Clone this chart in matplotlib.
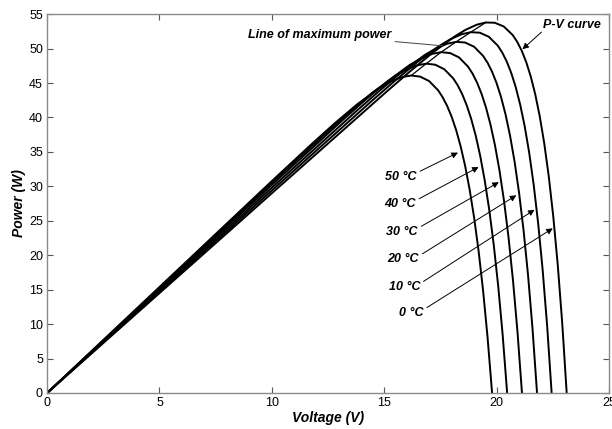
import numpy as np
import matplotlib.pyplot as plt

plt.rcParams['font.family'] = ['Liberation Sans', 'DejaVu Sans']

# P-V curves of the module at six cell temperatures (voltage in V, power in W)
temps = [0, 10, 20, 30, 40, 50]

v_0 = [0, 10, 15.12, 16.12, 17.12, 18.12, 18.62, 19.12, 19.52, 19.92, 20.32, 20.72, 20.92, 21.12, 21.32,
       21.52, 21.72, 21.92, 22.12, 22.32, 22.52, 22.72, 22.92, 23.12]
p_0 = [0, 29.0, 43.79, 46.61, 49.31, 51.73, 52.73, 53.47, 53.79, 53.75, 53.21, 51.96, 50.97, 49.68, 48.03,
       45.96, 43.37, 40.18, 36.27, 31.50, 25.70, 18.68, 10.20, 0]

v_10 = [0, 10, 14.45, 15.45, 16.45, 17.45, 17.95, 18.45, 18.85, 19.25, 19.65, 20.05, 20.25, 20.45, 20.65,
        20.85, 21.05, 21.25, 21.45, 21.65, 21.85, 22.05, 22.25, 22.45]
p_10 = [0, 29.4, 42.41, 45.26, 47.98, 50.39, 51.37, 52.09, 52.38, 52.31, 51.73, 50.44, 49.44, 48.14, 46.49,
        44.43, 41.87, 38.74, 34.91, 30.26, 24.64, 17.87, 9.75, 0]

v_20 = [0, 10, 13.8, 14.8, 15.8, 16.8, 17.3, 17.8, 18.2, 18.6, 19.0, 19.4, 19.6, 19.8, 20.0,
        20.2, 20.4, 20.6, 20.8, 21.0, 21.2, 21.4, 21.6, 21.8]
p_20 = [0, 29.8, 41.04, 43.91, 46.65, 49.06, 50.02, 50.71, 50.98, 50.88, 50.27, 48.94, 47.94, 46.63, 44.99,
        42.95, 40.43, 37.35, 33.61, 29.08, 23.64, 17.12, 9.31, 0]

v_30 = [0, 10, 13.13, 14.13, 15.13, 16.13, 16.63, 17.13, 17.53, 17.93, 18.33, 18.73, 18.93, 19.13, 19.33,
        19.53, 19.73, 19.93, 20.13, 20.33, 20.53, 20.73, 20.93, 21.13]
p_30 = [0, 30.2, 39.56, 42.46, 45.21, 47.61, 48.56, 49.23, 49.48, 49.35, 48.72, 47.38, 46.37, 45.07, 43.45,
        41.43, 38.95, 35.94, 32.29, 27.91, 22.64, 16.36, 8.89, 0]

v_40 = [0, 10, 12.47, 13.47, 14.47, 15.47, 15.97, 16.47, 16.87, 17.27, 17.67, 18.07, 18.27, 18.47, 18.67,
        18.87, 19.07, 19.27, 19.47, 19.67, 19.87, 20.07, 20.27, 20.47]
p_40 = [0, 30.5, 37.93, 40.84, 43.60, 45.99, 46.93, 47.58, 47.81, 47.66, 47.01, 45.68, 44.67, 43.39, 41.78,
        39.80, 37.39, 34.45, 30.91, 26.68, 21.62, 15.60, 8.46, 0]

v_50 = [0, 10, 11.8, 12.8, 13.8, 14.8, 15.3, 15.8, 16.2, 16.6, 17.0, 17.4, 17.6, 17.8, 18.0,
        18.2, 18.4, 18.6, 18.8, 19.0, 19.2, 19.4, 19.6, 19.8]
p_50 = [0, 30.77, 36.22, 39.16, 41.92, 44.30, 45.23, 45.87, 46.09, 45.93, 45.28, 43.94, 42.94, 41.68, 40.11,
        38.18, 35.82, 32.98, 29.56, 25.47, 20.62, 14.85, 8.04, 0]

curves_v = [v_0, v_10, v_20, v_30, v_40, v_50]
curves_p = [p_0, p_10, p_20, p_30, p_40, p_50]

# label anchor (right edge of text) and arrow tip for each temperature tag
label_xy = [(17.2, 11.6), (17.05, 15.4), (17.0, 19.4), (16.95, 23.4), (16.85, 27.4), (16.9, 31.4)]
arrow_tip = [(22.5, 23.9), (21.69, 26.6), (20.88, 28.7), (20.1, 30.6), (19.2, 32.8), (18.28, 34.9)]

fig = plt.figure(figsize=(6.12, 4.29), dpi=100)
ax = fig.add_axes([0.077, 0.084, 0.918, 0.883])

for v, p in zip(curves_v, curves_p):
    ax.plot(v, p, color='black', lw=1.4, solid_joinstyle='round')

# line through the maximum power points
mpp_v = [v[int(np.argmax(p))] for v, p in zip(curves_v, curves_p)]
mpp_p = [max(p) for p in curves_p]
ax.plot(mpp_v, mpp_p, color='black', lw=0.9)

txt = dict(fontsize=9, fontweight='bold', fontstyle='italic')
for t, (lx, ly), tip in zip(temps, label_xy, arrow_tip):
    ax.text(lx - 0.45, ly, f'{t} °C', ha='right', va='center', **txt)
    ax.annotate('', xy=tip, xytext=(lx - 0.3, ly + 0.8),
                arrowprops=dict(arrowstyle='-|>', color='black', lw=0.7,
                                mutation_scale=9, shrinkA=0, shrinkB=0))

ax.annotate('Line of maximum power', xy=(17.6, 50.4), xytext=(15.3, 52.0),
            ha='right', va='center', **txt,
            arrowprops=dict(arrowstyle='-', color='#444444', lw=0.7,
                            shrinkA=1, shrinkB=0))
ax.text(23.35, 53.4, 'P-V curve', ha='center', va='center', **txt)
ax.annotate('', xy=(21.15, 49.9), xytext=(22.0, 52.4),
            arrowprops=dict(arrowstyle='-|>', color='black', lw=0.7,
                            mutation_scale=9, shrinkA=0, shrinkB=0))

ax.set_xlim(0, 25)
ax.set_ylim(0, 55)
ax.set_xticks(np.arange(0, 26, 5))
ax.set_yticks(np.arange(0, 56, 5))
ax.tick_params(direction='in', top=True, right=True, length=4,
               labelsize=9, color='#555555', pad=3)
for s in ax.spines.values():
    s.set_color('#8a8a8a')
    s.set_linewidth(1.0)

ax.set_xlabel('Voltage (V)', fontsize=10, fontweight='bold', fontstyle='italic', labelpad=1)
ax.set_ylabel('Power (W)', fontsize=10, fontweight='bold', fontstyle='italic', labelpad=2)

fig.savefig('out.png', dpi=100)
